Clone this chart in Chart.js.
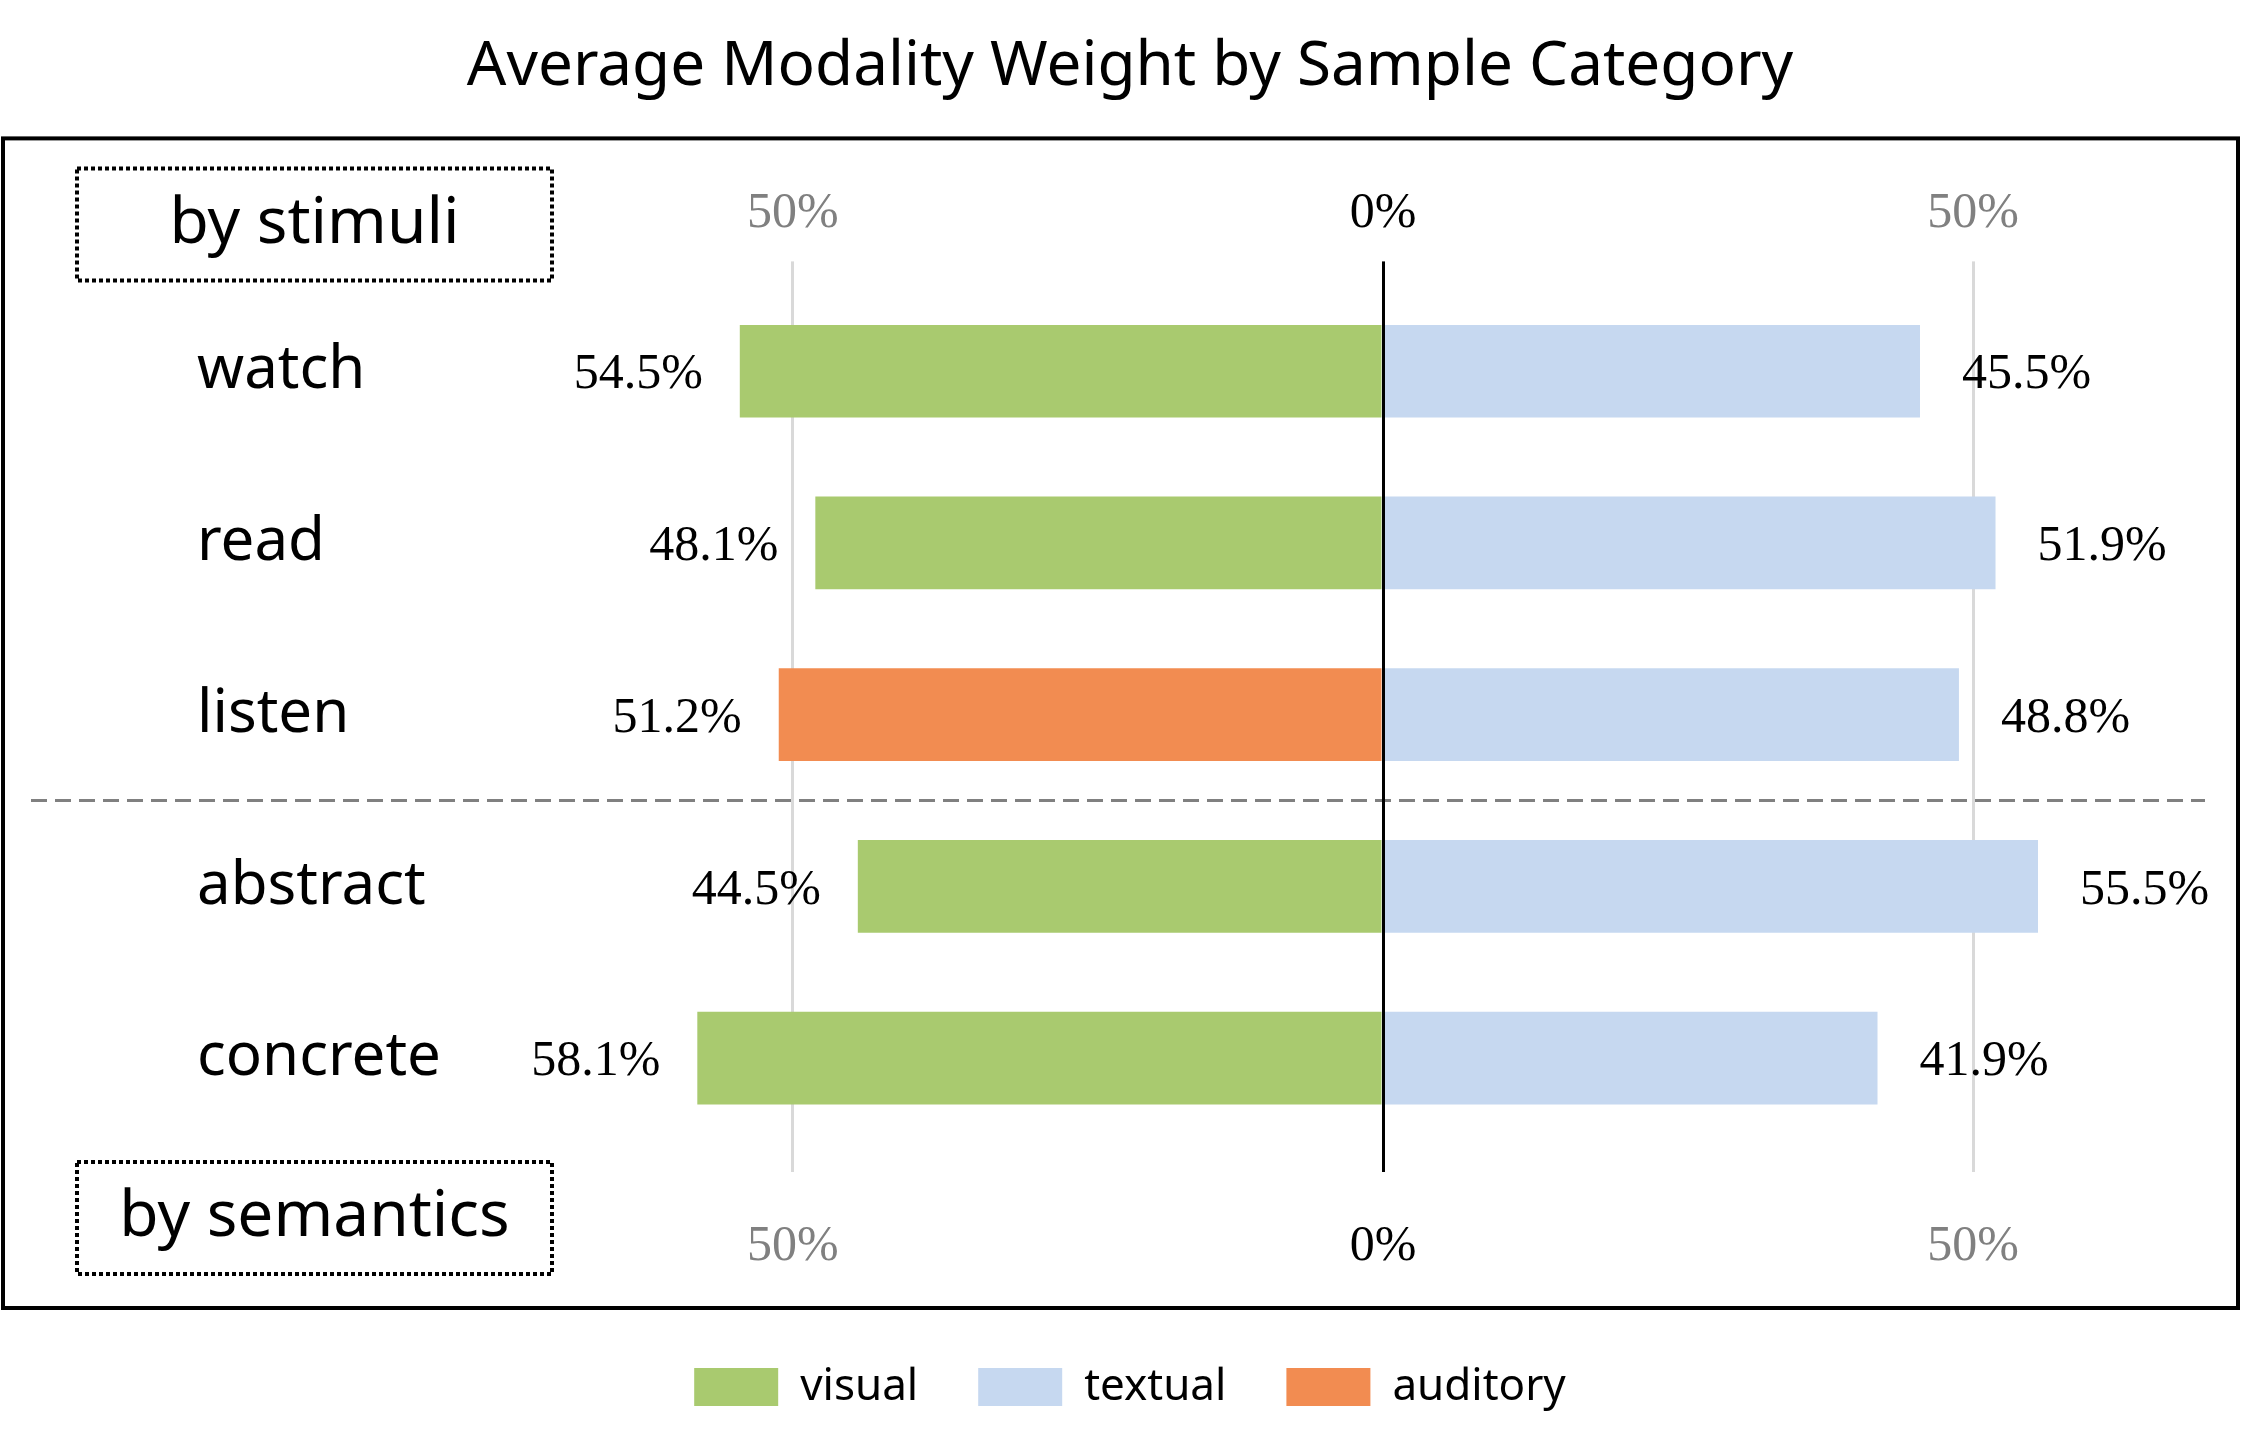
<!DOCTYPE html>
<html>
<head>
<meta charset="utf-8">
<script src="https://cdn.jsdelivr.net/npm/chart.js@4"></script>
<style>
  html, body { margin: 0; padding: 0; background: #fff; }
</style>
</head>
<body>
<canvas id="chart" width="2241" height="1446"></canvas>
<script>
// data
const categories = ['watch', 'read', 'listen', 'abstract', 'concrete'];
const visualWeight = [54.5, 48.1, null, 44.5, 58.1];      // drawn to the left
const auditoryWeight = [null, null, 51.2, null, null];    // drawn to the left
const textualWeight = [45.5, 51.9, 48.8, 55.5, 41.9];     // drawn to the right
const groupLabels = ['by stimuli', 'by semantics'];
const lastOfFirstGroup = 2; // 'listen' closes the stimuli group
const xTickValues = [-50, 0, 50];

const GREEN = '#A9CA6F';
const BLUE = '#C6D8F0';
const ORANGE = '#F28C51';

const toLeft = arr => arr.map(v => (v == null ? null : -v));
const pct = v => Math.abs(v).toFixed(1) + '%';

// frame, dashed separator and the two group tags
const decorPlugin = {
    id: 'decor',
    beforeDatasetsDraw(chart) {
        const ctx = chart.ctx;
        const y = chart.scales.y;
        const sepY = (y.getPixelForValue(lastOfFirstGroup) + y.getPixelForValue(lastOfFirstGroup + 1)) / 2;
        ctx.save();
        ctx.strokeStyle = '#808080';
        ctx.lineWidth = 3;
        ctx.setLineDash([16, 8]);
        ctx.beginPath();
        ctx.moveTo(31, sepY);
        ctx.lineTo(chart.width - 36, sepY);
        ctx.stroke();
        ctx.restore();
    },
    afterDraw(chart) {
        const ctx = chart.ctx;
        const top = chart.scales.x.top + 2;
        const bottom = chart.scales.x2.bottom + 3;
        ctx.save();
        ctx.strokeStyle = '#000';
        ctx.lineWidth = 4;
        ctx.strokeRect(3, top, chart.width - 6, bottom - top);

        // dotted tags
        const tags = [
            { text: groupLabels[0], y: top + 30 },
            { text: groupLabels[1], y: bottom - 34 - 112 }
        ];
        ctx.lineWidth = 4;
        ctx.setLineDash([4, 3]);
        ctx.font = "64px 'Comic Sans MS', 'Noto Sans', sans-serif";
        ctx.textAlign = 'center';
        ctx.textBaseline = 'middle';
        ctx.fillStyle = '#000';
        tags.forEach(t => {
            ctx.strokeRect(77, t.y, 475, 112);
            ctx.fillText(t.text, 77 + 475 / 2, t.y + 56);
        });
        ctx.restore();
    }
};

// value labels beside each bar end
const barLabelPlugin = {
    id: 'barLabels',
    afterDatasetsDraw(chart) {
        const ctx = chart.ctx;
        ctx.save();
        ctx.font = "50px 'Liberation Serif', 'Times New Roman', serif";
        ctx.fillStyle = '#000';
        ctx.textBaseline = 'middle';
        chart.data.datasets.forEach((ds, i) => {
            chart.getDatasetMeta(i).data.forEach((bar, j) => {
                const v = ds.data[j];
                if (v == null) return;
                if (v < 0) {
                    ctx.textAlign = 'right';
                    ctx.fillText(pct(v), bar.x - 37, bar.y + 4);
                } else {
                    ctx.textAlign = 'left';
                    ctx.fillText(pct(v), bar.x + 42, bar.y + 4);
                }
            });
        });
        ctx.restore();
    }
};

const xRange = { min: -72.7, max: 72.7 };
const setXTicks = scale => { scale.ticks = xTickValues.map(v => ({ value: v })); };
const tickFont = { family: "'Liberation Serif', 'Times New Roman', serif", size: 50 };

new Chart(document.getElementById('chart'), {
    type: 'bar',
    data: {
        labels: categories,
        datasets: [
            { label: 'visual', data: toLeft(visualWeight), backgroundColor: GREEN, xAxisID: 'x', yAxisID: 'y' },
            { label: 'textual', data: textualWeight, backgroundColor: BLUE, xAxisID: 'x', yAxisID: 'y' },
            { label: 'auditory', data: toLeft(auditoryWeight), backgroundColor: ORANGE, xAxisID: 'x', yAxisID: 'y' }
        ]
    },
    options: {
        indexAxis: 'y',
        responsive: false,
        animation: false,
        devicePixelRatio: 1,
        barPercentage: 0.54,
        categoryPercentage: 1,
        layout: { padding: { left: 19, right: 0, top: 0, bottom: 27 } },
        scales: {
            x: {
                position: 'top',
                stacked: true,
                ...xRange,
                afterBuildTicks: setXTicks,
                afterFit: s => { s.height = 149; },
                border: { display: false },
                grid: {
                    color: c => (c.tick && c.tick.value === 0 ? '#000' : '#D9D9D9'),
                    lineWidth: 3,
                    tickLength: 24
                },
                ticks: {
                    autoSkip: false,
                    maxRotation: 0,
                    padding: 18,
                    font: tickFont,
                    color: c => (c.tick.value === 0 ? '#000' : '#808080'),
                    callback: v => Math.abs(v) + '%'
                }
            },
            x2: {
                position: 'bottom',
                ...xRange,
                afterBuildTicks: setXTicks,
                afterFit: s => { s.height = 161; },
                border: { display: false },
                grid: {
                    z: 1, // zero line sits on top of the bars
                    color: c => (c.tick && c.tick.value === 0 ? '#000' : 'rgba(0,0,0,0)'),
                    tickColor: c => (c.tick && c.tick.value === 0 ? '#000' : '#D9D9D9'),
                    lineWidth: 3,
                    tickLength: 28
                },
                ticks: {
                    autoSkip: false,
                    maxRotation: 0,
                    padding: 45,
                    font: tickFont,
                    color: c => (c.tick.value === 0 ? '#000' : '#808080'),
                    callback: v => Math.abs(v) + '%'
                }
            },
            y: {
                type: 'category',
                position: 'left',
                stacked: true,
                weight: 0,
                afterFit: s => { s.width = 328; },
                border: { display: false },
                grid: { display: false },
                ticks: {
                    crossAlign: 'far',
                    color: '#000',
                    font: { family: "'Noto Sans', sans-serif", size: 60 }
                }
            },
            // empty spacer so the category names start further in
            yPad: {
                type: 'category',
                position: 'left',
                weight: 1,
                afterFit: s => { s.width = 178; },
                border: { display: false },
                grid: { display: false },
                ticks: { display: false }
            }
        },
        plugins: {
            title: {
                display: true,
                text: 'Average Modality Weight by Sample Category',
                color: '#000',
                font: { family: "'Noto Sans', sans-serif", size: 62, weight: 'normal' },
                padding: { top: 30, bottom: 32 }
            },
            legend: {
                position: 'bottom',
                labels: {
                    boxWidth: 84,
                    boxHeight: 38,
                    padding: 60,
                    color: '#000',
                    font: { family: "'Noto Sans', sans-serif", size: 44 }
                }
            },
            tooltip: { enabled: false }
        }
    },
    plugins: [decorPlugin, barLabelPlugin]
});
</script>
</body>
</html>
